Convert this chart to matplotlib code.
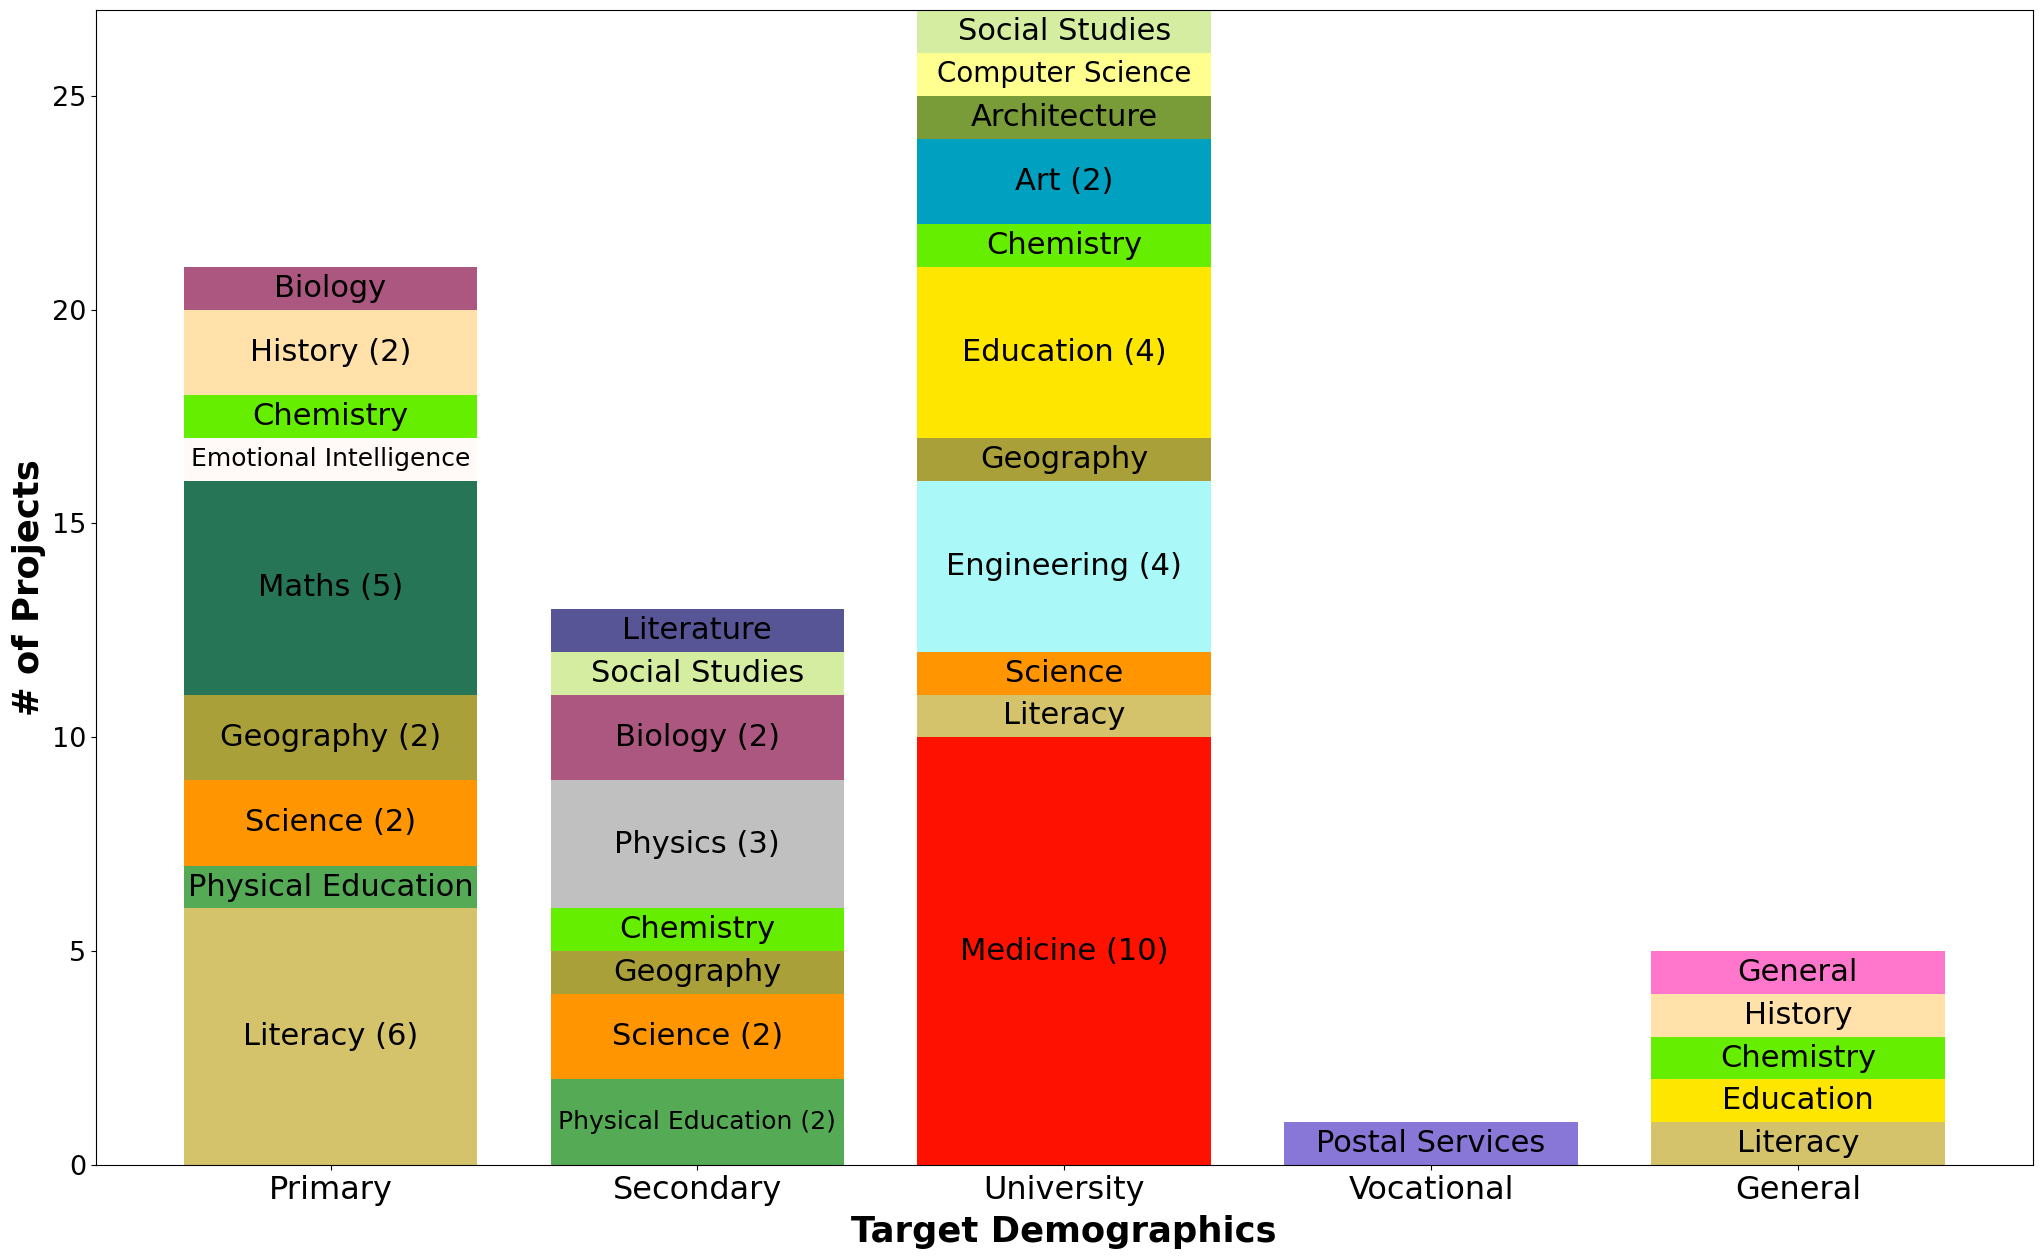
import matplotlib

matplotlib.use("Agg")
import matplotlib.pyplot as plt

demographics = ["Primary", "Secondary", "University", "Vocational", "General"]

# subjects per demographic, bottom to top
primary_subjects = ["Literacy", "Physical Education", "Science", "Geography", "Maths",
                    "Emotional Intelligence", "Chemistry", "History", "Biology"]
primary_counts = [6, 1, 2, 2, 5, 1, 1, 2, 1]

secondary_subjects = ["Physical Education", "Science", "Geography", "Chemistry", "Physics",
                      "Biology", "Social Studies", "Literature"]
secondary_counts = [2, 2, 1, 1, 3, 2, 1, 1]

university_subjects = ["Medicine", "Literacy", "Science", "Engineering", "Geography", "Education",
                       "Chemistry", "Art", "Architecture", "Computer Science", "Social Studies"]
university_counts = [10, 1, 1, 4, 1, 4, 1, 2, 1, 1, 1]

vocational_subjects = ["Postal Services"]
vocational_counts = [1]

general_subjects = ["Literacy", "Education", "Chemistry", "History", "General"]
general_counts = [1, 1, 1, 1, 1]

subject_colors = {
    "Literacy": "#d4c36b",
    "Physical Education": "#55aa55",
    "Science": "#ff9500",
    "Geography": "#aaa03a",
    "Maths": "#267556",
    "Emotional Intelligence": "#fffaf7",
    "Chemistry": "#66ee00",
    "History": "#ffe1a9",
    "Biology": "#ab577f",
    "Physics": "#c0c0c0",
    "Social Studies": "#d4eda0",
    "Literature": "#575595",
    "Medicine": "#ff1100",
    "Engineering": "#aaf8f8",
    "Education": "#ffe600",
    "Art": "#00a0c0",
    "Architecture": "#7a9c38",
    "Computer Science": "#ffff90",
    "Postal Services": "#8877d7",
    "General": "#ff77cc",
}

# long labels get a smaller font so they stay inside the bar
small_labels = {
    "Computer Science": 20,
    "Emotional Intelligence": 18,
    "Physical Education (2)": 18,
}

stacks = [
    (primary_subjects, primary_counts),
    (secondary_subjects, secondary_counts),
    (university_subjects, university_counts),
    (vocational_subjects, vocational_counts),
    (general_subjects, general_counts),
]

fig, ax = plt.subplots(figsize=(20.42, 12.57), dpi=100)
fig.subplots_adjust(left=0.0469, right=0.9954, top=0.9918, bottom=0.0732)

for i, (subjects, counts) in enumerate(stacks):
    bottom = 0
    for subject, count in zip(subjects, counts):
        ax.bar(i, count, bottom=bottom, width=0.8, color=subject_colors[subject])
        label = subject if count == 1 else f"{subject} ({count})"
        ax.text(i, bottom + count / 2, label, ha="center", va="center",
                fontsize=small_labels.get(label, 22), color="black")
        bottom += count

ax.set_ylim(0, max(sum(c) for _, c in stacks))
ax.set_xticks(range(len(demographics)))
ax.set_xticklabels(demographics, fontsize=23)
ax.tick_params(axis="y", labelsize=19.5)
ax.set_xlabel("Target Demographics", fontsize=25.5, fontweight="bold", labelpad=7)
ax.set_ylabel("# of Projects", fontsize=25.5, fontweight="bold")

fig.savefig("out.png", dpi=100)
